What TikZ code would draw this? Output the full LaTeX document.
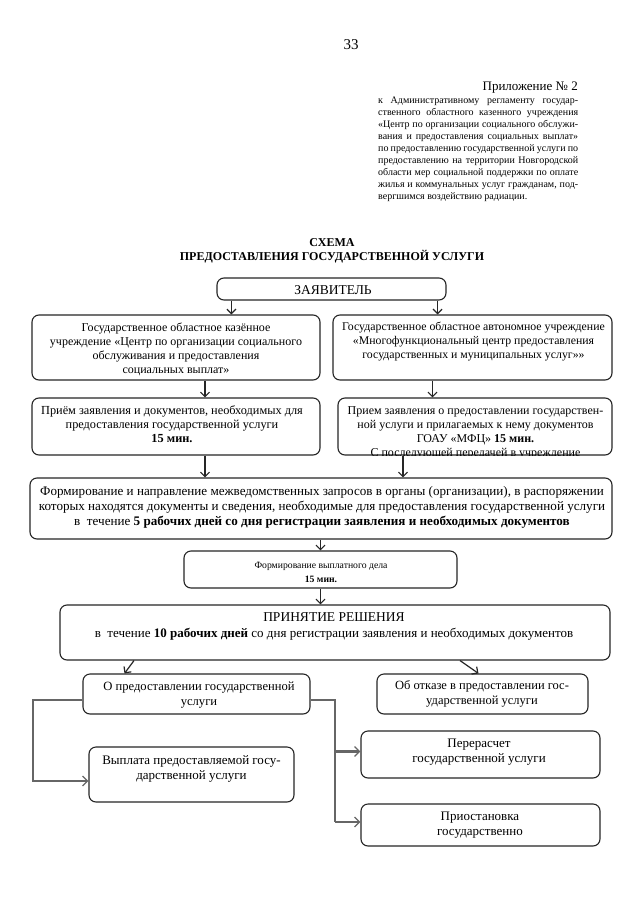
\documentclass[tikz,border=0pt]{standalone}
\usepackage{fontspec}
\setmainfont{Liberation Serif}
\usetikzlibrary{arrows.meta}
\newcommand{\fs}[2]{\fontsize{#1}{#2}\selectfont}
\newcommand{\jl}[1]{\makebox[200pt][s]{#1}}
\begin{document}
\begin{tikzpicture}[x=1pt,y=-1pt,
  box/.style={draw=black!85, line width=1.1pt, rounded corners=7pt, inner sep=0pt},
  txt/.style={align=center, inner sep=0pt, font=\fs{12}{14}},
  arr/.style={draw=black!85, line width=1.2pt, -{Straight Barb[length=4.5pt,width=9pt,line width=1.2pt]}},
  conn/.style={draw=black!60, line width=2.6pt},
  carr/.style={conn, -{Straight Barb[length=5pt,width=10pt,line width=1.3pt]}}
]
\useasboundingbox[fill=white] (0,0) rectangle (640,905);

% page header
\node[inner sep=0pt, font=\fs{15}{18}] (pg) at (351,45) {33};
\node[inner sep=0pt, anchor=east, font=\fs{13}{15}] (app) at (578,88) {Приложение № 2};
\node[inner sep=0pt, anchor=north west, align=left, font=\fs{10}{12}] (reg) at (378,97)
{\jl{к Административному регламенту государ-}\\
\jl{ственного областного казенного учреждения}\\
\jl{«Центр по организации социального обслужи-}\\
\jl{вания и предоставления социальных выплат»}\\
\jl{по предоставлению государственной услуги по}\\
\jl{предоставлению на территории Новгородской}\\
\jl{области мер социальной поддержки по оплате}\\
\jl{жилья и коммунальных услуг гражданам, под-}\\
вергшимся воздействию радиации.};

% title
\node[inner sep=0pt, align=center, font=\bfseries\fs{12}{14}] (title) at (332,251)
{СХЕМА\\ПРЕДОСТАВЛЕНИЯ ГОСУДАРСТВЕННОЙ УСЛУГИ};

% boxes
\node[box, minimum width=229pt, minimum height=22pt] (Z) at (331.5,289) {};
\node[box, minimum width=288pt, minimum height=65pt] (L1) at (176,347.5) {};
\node[box, minimum width=279pt, minimum height=65pt] (R1) at (472.5,347.5) {};
\node[box, minimum width=288pt, minimum height=57pt] (L2) at (176,426.5) {};
\node[box, minimum width=274pt, minimum height=57pt] (R2) at (475,426.5) {};
\node[box, minimum width=582pt, minimum height=61pt] (B3) at (321,508.5) {};
\node[box, minimum width=273pt, minimum height=37pt] (B4) at (320.5,569.5) {};
\node[box, minimum width=550pt, minimum height=55pt] (B5) at (335,632.5) {};
\node[box, minimum width=227pt, minimum height=40pt] (B6) at (196.5,694) {};
\node[box, minimum width=211pt, minimum height=40pt] (B7) at (482.5,694) {};
\node[box, minimum width=205pt, minimum height=55pt] (B8) at (191.5,774.5) {};
\node[box, minimum width=239pt, minimum height=47pt] (B9) at (480.5,754.5) {};
\node[box, minimum width=239pt, minimum height=42pt] (B10) at (480.5,825) {};

% texts
\node[txt, font=\fs{13.5}{15}] (tZ) at (333,290) {ЗАЯВИТЕЛЬ};
\node[txt] (tL1) at (176,349) {Государственное областное казённое\\учреждение «Центр по организации социального\\обслуживания и предоставления\\социальных выплат»};
\node[txt, font=\fs{11.8}{14}] (tR1) at (473.5,342) {Государственное областное автономное учреждение\\«Многофункциональный центр предоставления\\государственных и муниципальных услуг»»};
\node[txt, font=\fs{12.3}{14}] (tL2) at (172,424) {Приём заявления и документов, необходимых для\\предоставления государственной услуги\\\textbf{15 мин.}};
\begin{scope}
\clip[rounded corners=7pt] (338,398) rectangle (612,455);
\node[txt] (tR2) at (475.5,432.5) {Прием заявления о предоставлении государствен-\\ной услуги и прилагаемых к нему документов\\ГОАУ «МФЦ» \textbf{15 мин.}\\С последующей передачей в учреждение};
\end{scope}
\node[txt, font=\fs{13.1}{15}] (t3) at (322,507) {Формирование и направление межведомственных запросов в органы (организации), в распоряжении\\которых находятся документы и сведения, необходимые для предоставления государственной услуги\\в~ течение \textbf{5 рабочих дней со дня регистрации заявления и необходимых документов}};
\node[txt, font=\fs{9.7}{14}] (t4) at (321,572) {Формирование выплатного дела\\\textbf{15 мин.}};
\node[txt, font=\fs{13}{16}] (t5) at (334,626) {{\fs{13.5}{16}ПРИНЯТИЕ РЕШЕНИЯ}\\в~ течение \textbf{10 рабочих дней} со дня регистрации заявления и необходимых документов};
\node[txt, font=\fs{12.6}{15}] (t6) at (199,695.5) {О предоставлении государственной\\услуги};
\node[txt, font=\fs{12.5}{14.5}] (t7) at (482,694) {Об отказе в предоставлении гос-\\ударственной услуги};
\node[txt, font=\fs{13}{15}] (t8) at (191.5,768.5) {Выплата предоставляемой госу-\\дарственной услуги};
\node[txt, font=\fs{13}{14.5}] (t9) at (479,752) {Перерасчет\\государственной услуги};
\node[txt, font=\fs{13}{14.5}] (t10) at (480,825) {Приостановка\\государственно};

% down arrows
\draw[arr] ([xshift=15pt]Z.south west) -- ([xshift=15pt]Z.south west |- L1.north);
\draw[arr] ([xshift=-9pt]Z.south east) -- ([xshift=-9pt]Z.south east |- R1.north);
\draw[arr] ([xshift=29pt]L1.south) -- ([xshift=29pt]L1.south |- L2.north);
\draw[arr] ([xshift=-40pt]R1.south) -- ([xshift=-40pt]R1.south |- R2.north);
\draw[arr] ([xshift=29pt]L2.south) -- ([xshift=29pt]L2.south |- B3.north);
\draw[arr] ([xshift=-72pt]R2.south) -- ([xshift=-72pt]R2.south |- B3.north);
\draw[arr] (B4.north |- B3.south) -- (B4.north);
\draw[arr] (B4.south) -- (B4.south |- B5.north);
\draw[arr] ([xshift=-201pt]B5.south) -- ([xshift=-72pt]B6.north);
\draw[arr] ([xshift=125pt]B5.south) -- ([xshift=-4pt]B7.north);

% branch connectors
\coordinate (lx) at (33,0);
\coordinate (rx) at (335,0);
\draw[carr] ([yshift=-6pt]B6.west) -- ([yshift=-6pt]B6.west -| lx) -- ([yshift=-6.5pt]B8.west -| lx) -- ([yshift=-6.5pt]B8.west);
\draw[conn] ([yshift=-6pt]B6.east) -- ([yshift=-6pt]B6.east -| rx) -- ([yshift=3pt]B10.west -| rx);
\draw[carr] ([yshift=3pt]B9.west -| rx) -- ([yshift=3pt]B9.west);
\draw[carr] ([yshift=3pt]B10.west -| rx) -- ([yshift=3pt]B10.west);
\end{tikzpicture}
\end{document}
